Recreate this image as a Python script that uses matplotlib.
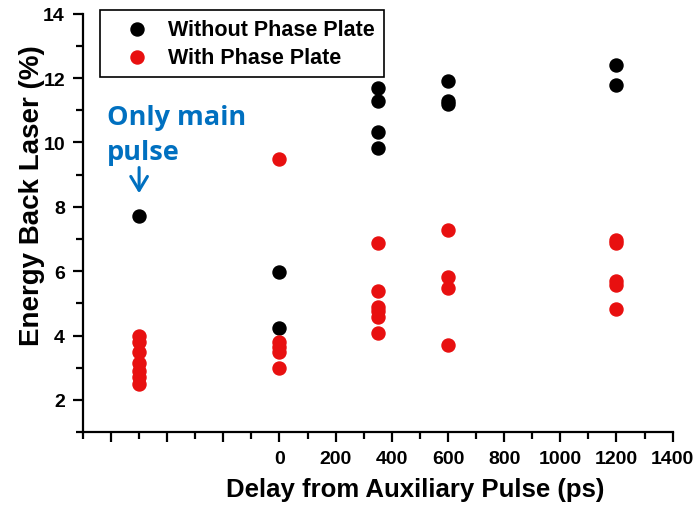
import matplotlib
matplotlib.use('Agg')
import matplotlib.pyplot as plt
from matplotlib.ticker import MultipleLocator, FuncFormatter

# data ---------------------------------------------------------------------
# delay (ps); -500 is the "only main pulse" column
no_plate_x = [-500, 0, 0, 350, 350, 350, 350, 600, 600, 600, 1200, 1200]
no_plate_y = [7.70, 5.97, 4.25, 11.70, 11.30, 10.31, 9.82, 11.92, 11.30, 11.20, 12.40, 11.78]

plate_x = [-500, -500, -500, -500, -500, -500, -500,
           0, 0, 0, 0, 0,
           350, 350, 350, 350, 350, 350,
           600, 600, 600, 600,
           1200, 1200, 1200, 1200, 1200]
plate_y = [4.0, 3.8, 3.5, 3.15, 2.9, 2.7, 2.5,
           9.5, 3.81, 3.65, 3.48, 2.98,
           6.89, 5.39, 4.90, 4.75, 4.59, 4.09,
           7.28, 5.83, 5.49, 3.71,
           6.97, 6.87, 5.68, 5.57, 4.83]

plt.rcParams['font.family'] = ['Liberation Sans', 'DejaVu Sans']
plt.rcParams['font.weight'] = 'bold'

fig = plt.figure(figsize=(6.97, 5.06), dpi=100)
ax = fig.add_axes([0.119, 0.144, 0.846, 0.827])

ax.scatter(no_plate_x, no_plate_y, s=88, color='black', label='Without Phase Plate', zorder=3)
ax.scatter(plate_x, plate_y, s=88, color='#e81010', label='With Phase Plate', zorder=3)

ax.set_xlim(-700, 1400)
ax.set_ylim(1, 14)
ax.xaxis.set_major_locator(MultipleLocator(200))
ax.xaxis.set_minor_locator(MultipleLocator(100))
ax.yaxis.set_major_locator(MultipleLocator(2))
ax.yaxis.set_minor_locator(MultipleLocator(1))
ax.xaxis.set_major_formatter(FuncFormatter(lambda v, p: '' if v < 0 else '%d' % v))

for side in ['top', 'right']:
    ax.spines[side].set_visible(False)
for side in ['left', 'bottom']:
    ax.spines[side].set_linewidth(1.6)
ax.tick_params(which='major', length=7, width=1.6, labelsize=14)
ax.tick_params(which='minor', length=5, width=1.6)
ax.tick_params(axis='x', which='major', pad=6)
ax.tick_params(axis='y', which='major', pad=6)

ax.set_xlabel('Delay from Auxiliary Pulse (ps)', fontsize=18.5, fontweight='bold')
ax.set_ylabel('Energy Back Laser (%)', fontsize=20, fontweight='bold')
ax.xaxis.set_label_coords(0.563, -0.108)
ax.yaxis.set_label_coords(-0.064, 0.567)

leg = ax.legend(loc='upper left', bbox_to_anchor=(100 / 697, 1 - 11 / 506),
                bbox_transform=fig.transFigure, borderaxespad=0, fontsize=15.5,
                fancybox=False, edgecolor='black', framealpha=1,
                handlelength=2.6, handletextpad=0.15, borderpad=0.42,
                labelspacing=0.32, scatterpoints=1)
leg.get_frame().set_linewidth(1.2)

# blue annotation
ax.annotate('', xy=(-500, 8.42), xytext=(-500, 9.22),
            arrowprops=dict(arrowstyle='->,head_length=0.5,head_width=0.3',
                            color='#0070c0', lw=2.2, mutation_scale=20,
                            shrinkA=0, shrinkB=0))
ax.text(-615, 11.18, 'Only main\npulse', color='#0070c0', fontsize=19.5, fontweight='bold',
        family=['Open Sans', 'DejaVu Sans'], va='top', ha='left', linespacing=1.45)

fig.savefig('out.png', dpi=100)
